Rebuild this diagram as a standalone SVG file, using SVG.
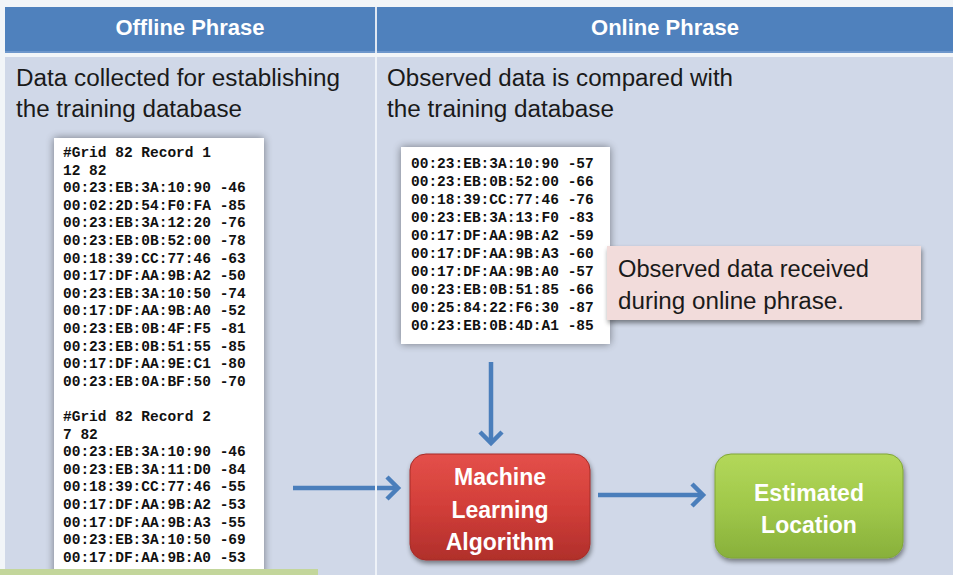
<svg xmlns="http://www.w3.org/2000/svg" width="953" height="575" viewBox="0 0 953 575">
  <style>
    .hdr { font-family: "Liberation Sans", Arial, sans-serif; font-weight: bold; font-size: 22px; fill: #ffffff; text-anchor: middle; }
    .body { font-family: "Liberation Sans", Arial, sans-serif; font-size: 23px; fill: #1a1a1a; }
    .mono { font-family: "Liberation Mono", "DejaVu Sans Mono", monospace; font-weight: bold; font-size: 14.5px; fill: #111111; }
    .node { font-family: "Liberation Sans", Arial, sans-serif; font-weight: bold; font-size: 23px; fill: #ffffff; text-anchor: middle; }
    .conn { stroke: #4a7ebb; stroke-width: 4.5; fill: none; }
  </style>
  <defs>
    <filter id="glow" x="-20%" y="-20%" width="140%" height="140%">
      <feGaussianBlur in="SourceAlpha" stdDeviation="4"/>
      <feComponentTransfer><feFuncA type="linear" slope="0.45"/></feComponentTransfer>
      <feMerge><feMergeNode/><feMergeNode in="SourceGraphic"/></feMerge>
    </filter>
    <filter id="drop" x="-20%" y="-20%" width="140%" height="150%">
      <feGaussianBlur in="SourceAlpha" stdDeviation="2.5"/>
      <feOffset dx="1" dy="3" result="o"/>
      <feComponentTransfer><feFuncA type="linear" slope="0.45"/></feComponentTransfer>
      <feMerge><feMergeNode/><feMergeNode in="SourceGraphic"/></feMerge>
    </filter>
    <linearGradient id="redG" x1="0" y1="0" x2="0" y2="1">
      <stop offset="0" stop-color="#e4504a"/>
      <stop offset="0.5" stop-color="#d23e39"/>
      <stop offset="1" stop-color="#b02f2b"/>
    </linearGradient>
    <linearGradient id="greenG" x1="0" y1="0" x2="0" y2="1">
      <stop offset="0" stop-color="#b3d85a"/>
      <stop offset="0.5" stop-color="#a0c84a"/>
      <stop offset="1" stop-color="#88b03b"/>
    </linearGradient>
    <marker id="arr" markerUnits="userSpaceOnUse" viewBox="-14 -14 19 28" refX="0" refY="0" markerWidth="19" markerHeight="28" orient="auto">
      <path d="M-11,-11 L0,0 L-11,11" fill="none" stroke="#4a7ebb" stroke-width="4.5"/>
    </marker>
  </defs>

  <!-- background -->
  <rect x="0" y="0" width="953" height="575" fill="#f2f5f8"/>

  <g id="header">
    <rect x="5" y="7" width="948" height="46" fill="#4f81bd"/>
    <rect x="5" y="51" width="948" height="2" fill="#6e97cb"/>
    <rect x="375" y="7" width="2" height="46" fill="#dfe7f2"/>
    <text class="hdr" x="190" y="35">Offline Phrase</text>
    <text class="hdr" x="665" y="35">Online Phrase</text>
  </g>

  <g id="body">
    <rect x="5" y="57" width="370" height="518" fill="#d0d8e8"/>
    <rect x="377" y="57" width="576" height="518" fill="#d0d8e8"/>
    <text class="body" x="16" y="86" textLength="324" lengthAdjust="spacingAndGlyphs">Data collected for establishing</text>
    <text class="body" x="16" y="117" textLength="226" lengthAdjust="spacingAndGlyphs">the training database</text>
    <text class="body" x="387" y="86" textLength="346" lengthAdjust="spacingAndGlyphs">Observed data is compared with</text>
    <text class="body" x="387" y="117" textLength="227" lengthAdjust="spacingAndGlyphs">the training database</text>
  </g>

  <g id="training-data">
    <rect x="54" y="138" width="210" height="445" fill="#ffffff" filter="url(#glow)"/>
    <g class="mono">
      <text x="63" y="157">#Grid 82 Record 1</text>
      <text x="63" y="174.6">12 82</text>
      <text x="63" y="192.2">00:23:EB:3A:10:90 -46</text>
      <text x="63" y="209.8">00:02:2D:54:F0:FA -85</text>
      <text x="63" y="227.4">00:23:EB:3A:12:20 -76</text>
      <text x="63" y="245">00:23:EB:0B:52:00 -78</text>
      <text x="63" y="262.6">00:18:39:CC:77:46 -63</text>
      <text x="63" y="280.2">00:17:DF:AA:9B:A2 -50</text>
      <text x="63" y="297.8">00:23:EB:3A:10:50 -74</text>
      <text x="63" y="315.4">00:17:DF:AA:9B:A0 -52</text>
      <text x="63" y="333">00:23:EB:0B:4F:F5 -81</text>
      <text x="63" y="350.6">00:23:EB:0B:51:55 -85</text>
      <text x="63" y="368.2">00:17:DF:AA:9E:C1 -80</text>
      <text x="63" y="385.8">00:23:EB:0A:BF:50 -70</text>
      <text x="63" y="421">#Grid 82 Record 2</text>
      <text x="63" y="438.6">7 82</text>
      <text x="63" y="456.2">00:23:EB:3A:10:90 -46</text>
      <text x="63" y="473.8">00:23:EB:3A:11:D0 -84</text>
      <text x="63" y="491.4">00:18:39:CC:77:46 -55</text>
      <text x="63" y="509">00:17:DF:AA:9B:A2 -53</text>
      <text x="63" y="526.6">00:17:DF:AA:9B:A3 -55</text>
      <text x="63" y="544.2">00:23:EB:3A:10:50 -69</text>
      <text x="63" y="561.8">00:17:DF:AA:9B:A0 -53</text>
    </g>
  </g>

  <g id="observed-data">
    <rect x="401" y="147" width="209" height="197" fill="#ffffff" filter="url(#glow)"/>
    <g class="mono">
      <text x="411" y="168">00:23:EB:3A:10:90 -57</text>
      <text x="411" y="186">00:23:EB:0B:52:00 -66</text>
      <text x="411" y="204">00:18:39:CC:77:46 -76</text>
      <text x="411" y="222">00:23:EB:3A:13:F0 -83</text>
      <text x="411" y="240">00:17:DF:AA:9B:A2 -59</text>
      <text x="411" y="258">00:17:DF:AA:9B:A3 -60</text>
      <text x="411" y="276">00:17:DF:AA:9B:A0 -57</text>
      <text x="411" y="294">00:23:EB:0B:51:85 -66</text>
      <text x="411" y="312">00:25:84:22:F6:30 -87</text>
      <text x="411" y="330">00:23:EB:0B:4D:A1 -85</text>
    </g>
  </g>

  <g id="callout">
    <rect x="607" y="246" width="314" height="74" fill="#f2dcdb" filter="url(#drop)"/>
    <text class="body" x="618" y="277" textLength="251" lengthAdjust="spacingAndGlyphs">Observed data received</text>
    <text class="body" x="618" y="309" textLength="226" lengthAdjust="spacingAndGlyphs">during online phrase.</text>
  </g>

  <g id="connectors">
    <line class="conn" x1="293" y1="488" x2="398" y2="488" marker-end="url(#arr)"/>
    <line class="conn" x1="491" y1="362" x2="491" y2="443" marker-end="url(#arr)"/>
    <line class="conn" x1="598" y1="495" x2="703" y2="495" marker-end="url(#arr)"/>
  </g>

  <g id="ml-algorithm">
    <rect x="410" y="454" width="180" height="106" rx="16" ry="16" fill="url(#redG)" stroke="#a52c28" stroke-width="1" filter="url(#drop)"/>
    <text class="node" x="500" y="485">Machine</text>
    <text class="node" x="500" y="518">Learning</text>
    <text class="node" x="500" y="550">Algorithm</text>
  </g>

  <g id="estimated-location">
    <rect x="715" y="454" width="188" height="104" rx="16" ry="16" fill="url(#greenG)" stroke="#80a636" stroke-width="1" filter="url(#drop)"/>
    <text class="node" x="809" y="501">Estimated</text>
    <text class="node" x="809" y="533">Location</text>
  </g>

  <rect x="375" y="57" width="2" height="518" fill="#eef2f8"/>
  <rect x="0" y="569" width="318" height="6" fill="#c3d69b"/>
</svg>
